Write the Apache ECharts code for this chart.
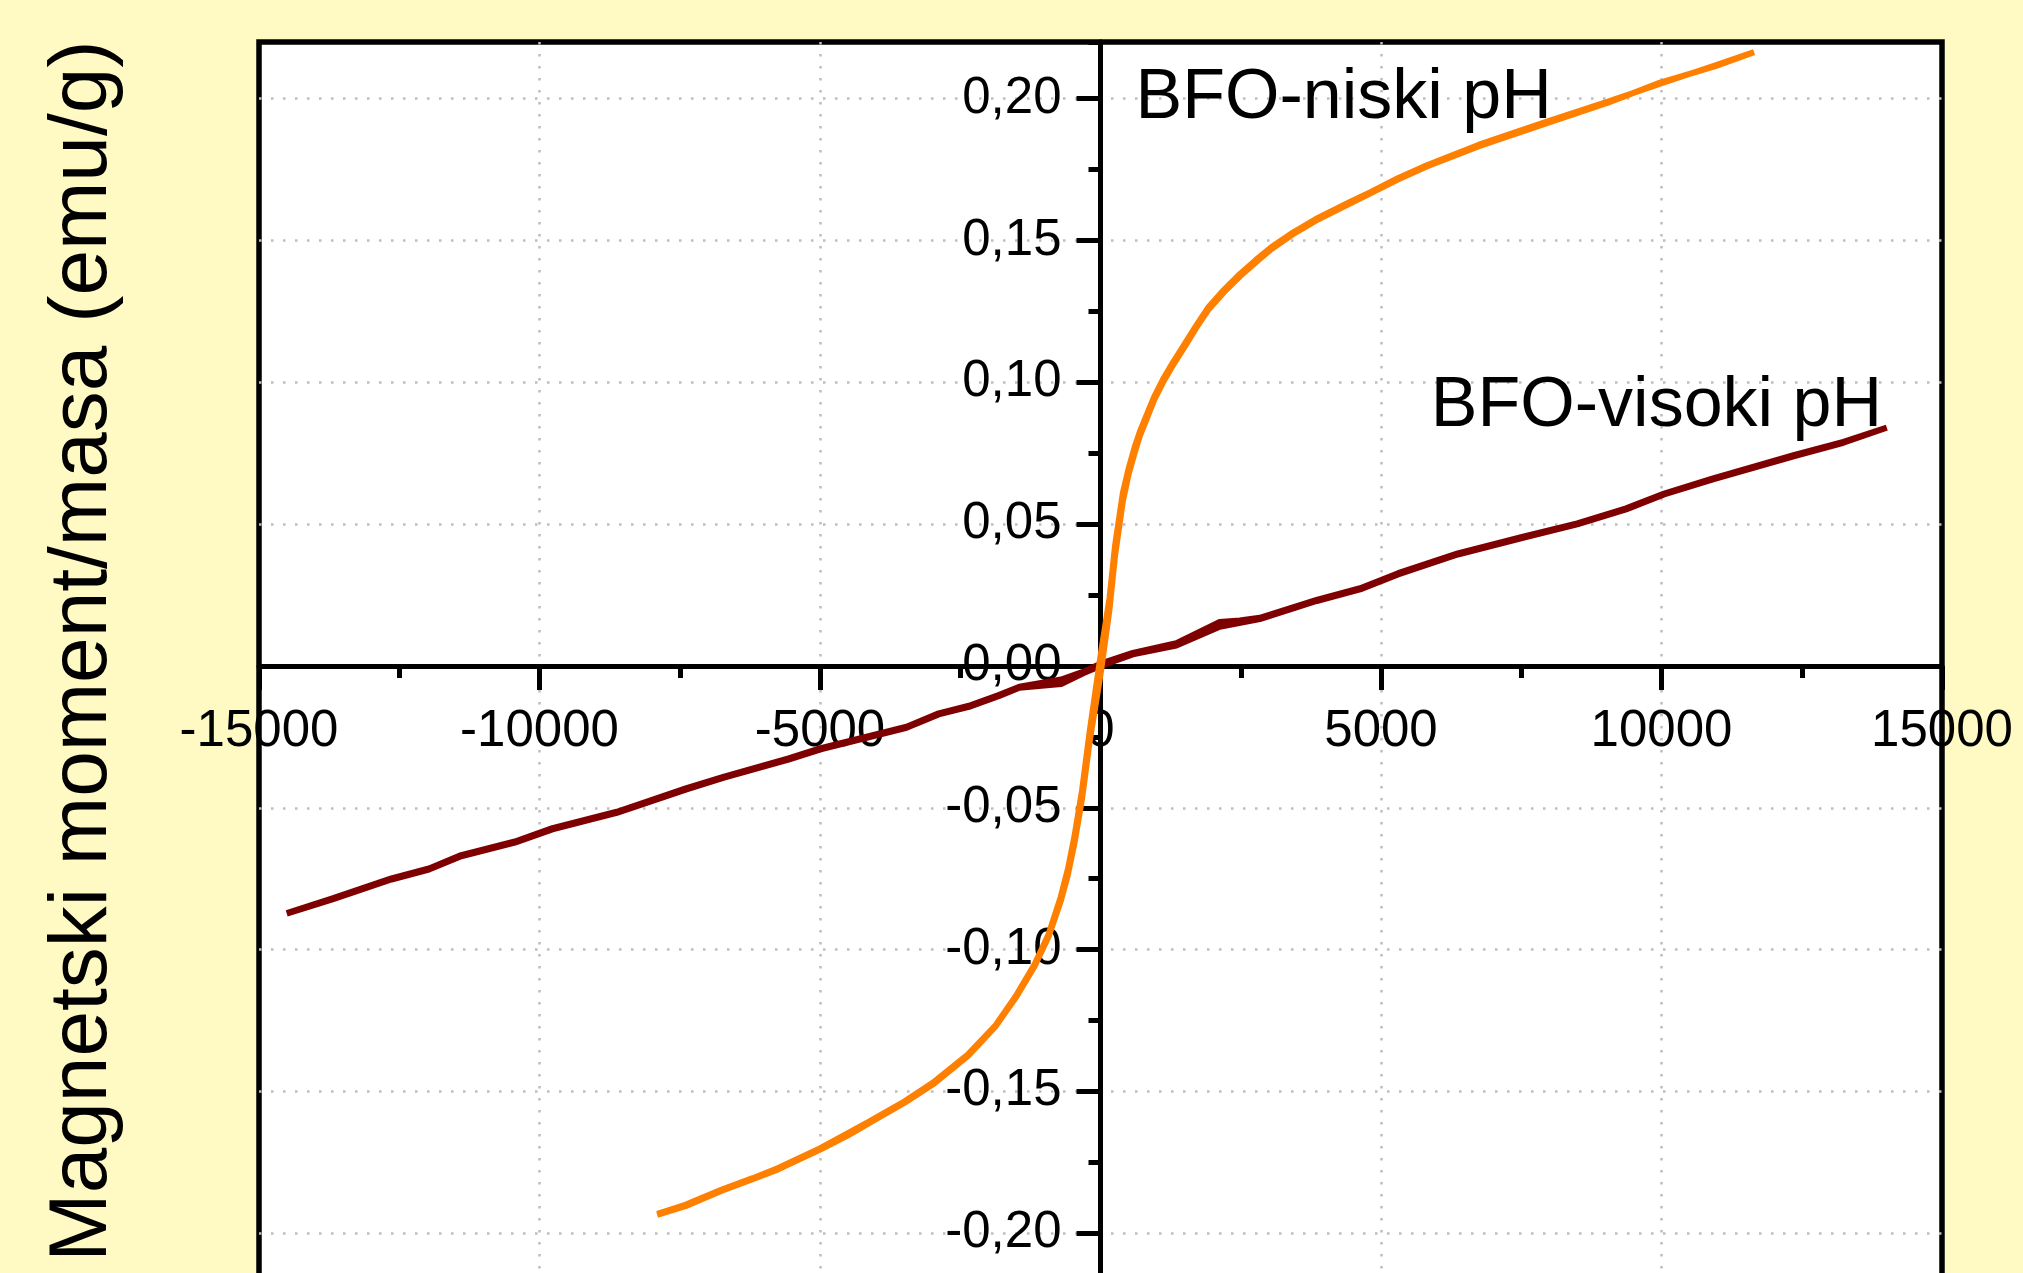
<!DOCTYPE html>
<html>
<head>
<meta charset="utf-8">
<script src="https://cdn.jsdelivr.net/npm/echarts@6/dist/echarts.min.js"></script>
<style>
html,body{margin:0;padding:0;background:#FFF9C3;}
#chart{width:2023px;height:1273px;}
</style>
</head>
<body>
<div id="chart"></div>
<script>
// ---------- Axis definitions ----------
const xTickValues = [-15000, -10000, -5000, 0, 5000, 10000, 15000];
const xTickLabels = ['-15000', '-10000', '-5000', '0', '5000', '10000', '15000'];
const yTickLabels = ['-0,20', '-0,15', '-0,10', '-0,05', '0,00', '0,05', '0,10', '0,15', '0,20'];
const yAxisTitle = 'Magnetski moment/masa (emu/g)';

// ---------- BFO-niski pH (orange) : ascending branch ----------
const niskiUpX = [-7902, -7400, -6750, -6200, -5746, -4995, -4500, -4118, -3491, -2991, -2366, -1866, -1491, -1175, -923, -710, -580, -464, -330, -196, 0, 161, 260, 398, 500, 607, 700, 816, 950, 1112, 1290, 1470, 1700, 1927, 2200, 2486, 2760, 3043, 3430, 3839, 4446, 4830, 5300, 5827, 6746, 7971, 9045, 9964, 10961, 11650];
const niskiUpY = [-0.1935, -0.1905, -0.1850, -0.1810, -0.1775, -0.1705, -0.1655, -0.1611, -0.1540, -0.1476, -0.1376, -0.1270, -0.1164, -0.1059, -0.0953, -0.0830, -0.0735, -0.0625, -0.0470, -0.0270, -0.0030, 0.0200, 0.0390, 0.0580, 0.0675, 0.0750, 0.0810, 0.0868, 0.0935, 0.0999, 0.1060, 0.1116, 0.1190, 0.1257, 0.1318, 0.1374, 0.1422, 0.1469, 0.1522, 0.1570, 0.1630, 0.1668, 0.1715, 0.1762, 0.1833, 0.1915, 0.1986, 0.2056, 0.2115, 0.2164];
// ---------- BFO-niski pH (orange) : descending branch ----------
const niskiDownX = [11650, 10961, 9964, 9045, 7971, 6746, 5827, 5300, 4830, 4446, 3839, 3430, 3043, 2760, 2486, 2200, 1927, 1700, 1470, 1290, 1112, 950, 816, 700, 607, 500, 398, 260, 161, 0, -196, -330, -464, -580, -710, -923, -1175, -1491, -1866, -2366, -2991, -3491, -4118, -4995, -5746, -6200, -6750, -7400, -7902];
const niskiDownY = [0.2160, 0.2118, 0.2052, 0.1990, 0.1920, 0.1838, 0.1766, 0.1720, 0.1672, 0.1636, 0.1576, 0.1528, 0.1476, 0.1430, 0.1382, 0.1326, 0.1266, 0.1198, 0.1126, 0.1070, 0.1010, 0.0946, 0.0882, 0.0825, 0.0770, 0.0695, 0.0610, 0.0425, 0.0240, 0.0035, -0.0235, -0.0440, -0.0600, -0.0715, -0.0815, -0.0945, -0.1052, -0.1158, -0.1266, -0.1370, -0.1470, -0.1535, -0.1606, -0.1700, -0.1770, -0.1806, -0.1846, -0.1900, -0.1932];

// ---------- BFO-visoki pH (dark red) : ascending branch ----------
const visokiUpX = [-14505, -13691, -12639, -11970, -11396, -10439, -9769, -8622, -7378, -6709, -5561, -4987, -3936, -3457, -2884, -2309, -1804, -1446, -702, -300, 0, 577, 1352, 2125, 2839, 3853, 4628, 5305, 6369, 7532, 8498, 9369, 10047, 10919, 12371, 13242, 14016];
const visokiUpY = [-0.0873, -0.0823, -0.0753, -0.0718, -0.0671, -0.0623, -0.0576, -0.0518, -0.0435, -0.0394, -0.0330, -0.0294, -0.0242, -0.0218, -0.0171, -0.0142, -0.0106, -0.0077, -0.0064, -0.0025, 0.0000, 0.0041, 0.0072, 0.0138, 0.0165, 0.0229, 0.0270, 0.0323, 0.0393, 0.0452, 0.0499, 0.0552, 0.0605, 0.0658, 0.0740, 0.0787, 0.0840];
// ---------- BFO-visoki pH (dark red) : descending branch ----------
const visokiDownX = [14016, 13242, 12371, 10919, 10047, 9369, 8498, 7532, 6369, 5305, 4628, 3853, 2839, 2482, 2125, 1352, 577, 0, -300, -702, -1446, -1804, -2309, -2884, -3457, -3936, -4987, -5561, -6709, -7378, -8622, -9769, -10439, -11396, -11970, -12639, -13691, -14505];
const visokiDownY = [0.0842, 0.0790, 0.0744, 0.0661, 0.0608, 0.0556, 0.0503, 0.0456, 0.0397, 0.0327, 0.0274, 0.0233, 0.0170, 0.0160, 0.0155, 0.0080, 0.0046, 0.0008, -0.0020, -0.0048, -0.0073, -0.0102, -0.0138, -0.0167, -0.0214, -0.0238, -0.0290, -0.0326, -0.0390, -0.0431, -0.0514, -0.0572, -0.0619, -0.0667, -0.0714, -0.0749, -0.0819, -0.0871];

// ---------- Annotations (data coordinates) ----------
const annotationTexts = ['BFO-niski pH', 'BFO-visoki pH'];
const annotationX = [625, 5889];
const annotationY = [0.200, 0.0913];

function pairs(xs, ys) { return xs.map((x, i) => [x, ys[i]]); }
const niskiLoop = pairs(niskiUpX, niskiUpY).concat(pairs(niskiDownX, niskiDownY));
const visokiLoop = pairs(visokiUpX, visokiUpY).concat(pairs(visokiDownX, visokiDownY));
const annotationData = annotationTexts.map((t, i) => ({ name: t, value: [annotationX[i], annotationY[i]] }));

const FONT = '"Liberation Sans", Arial, sans-serif';
const yLabelMap = {};
yTickLabels.forEach(l => { yLabelMap[parseFloat(l.replace(',', '.')).toFixed(2)] = l; });
const xLabelMap = {};
xTickValues.forEach((v, i) => { xLabelMap[v] = xTickLabels[i]; });

const GRID = { left: 259, top: 42, width: 1683, height: 1333 };
const GRID_LINE = { color: '#bdbdbd', width: 2.5, type: [2.5, 9.5] };

const chart = echarts.init(document.getElementById('chart'), null, { renderer: 'canvas' });
chart.setOption({
  backgroundColor: '#FFF9C3',
  animation: false,
  textStyle: { fontFamily: FONT, color: '#000' },
  grid: {
    left: GRID.left, top: GRID.top, width: GRID.width, height: GRID.height,
    show: true, backgroundColor: '#ffffff', borderColor: '#000000', borderWidth: 5.5,
    containLabel: false, outerBoundsMode: 'none'
  },
  xAxis: {
    type: 'value', min: xTickValues[0], max: xTickValues[xTickValues.length - 1], interval: 5000,
    position: 'bottom', offset: 0, z: 6,
    axisLine: { show: true, onZero: false, lineStyle: { color: '#000', width: 5 } },
    axisTick: { show: true, length: 24, lineStyle: { color: '#000', width: 5 } },
    minorTick: { show: true, splitNumber: 2, length: 12, lineStyle: { color: '#000', width: 5 } },
    axisLabel: {
      show: true, margin: 40, fontSize: 51, color: '#000000', fontFamily: FONT,
      showMinLabel: true, showMaxLabel: true, hideOverlap: false,
      formatter: v => (xLabelMap[v] !== undefined ? xLabelMap[v] : String(v))
    },
    splitLine: { show: true, showMinLine: false, showMaxLine: false, lineStyle: GRID_LINE },
    minorSplitLine: { show: false }
  },
  yAxis: [{
    type: 'value', min: -0.25, max: 0.22, interval: 0.05, position: 'left', offset: 0, z: 6,
    name: yAxisTitle, nameLocation: 'middle', nameGap: 976, nameMoveOverlap: false,
    nameTextStyle: { fontSize: 82, color: '#000000', fontFamily: FONT, padding: [0, 0, 0, 115] },
    axisLine: { show: true, onZero: false, lineStyle: { color: '#000', width: 5 } },
    axisTick: { show: true, length: 24, lineStyle: { color: '#000', width: 5 } },
    axisLabel: {
      show: true, margin: 39, fontSize: 51, color: '#000000', fontFamily: FONT,
      showMinLabel: false, showMaxLabel: false, hideOverlap: false,
      formatter: v => { const k = v.toFixed(2); return yLabelMap[k] !== undefined ? yLabelMap[k] : ''; }
    },
    splitLine: { show: true, showMinLine: false, showMaxLine: false, lineStyle: GRID_LINE }
  }, {
    type: 'value', min: -0.25, max: 0.22, interval: 0.025, position: 'left', offset: 0, z: 6,
    axisLine: { show: false, onZero: false },
    axisTick: { show: true, length: 12, lineStyle: { color: '#000', width: 5 } },
    axisLabel: { show: false },
    splitLine: { show: false }
  }],
  series: [{
    name: 'BFO-visoki pH', type: 'line', xAxisIndex: 0, yAxisIndex: 0,
    data: visokiLoop, showSymbol: false, symbol: 'none', smooth: false,
    lineStyle: { color: '#7F0000', width: 6 }, z: 7
  }, {
    name: 'BFO-niski pH', type: 'line', xAxisIndex: 0, yAxisIndex: 0,
    data: niskiLoop, showSymbol: false, symbol: 'none', smooth: false,
    lineStyle: { color: '#FF8000', width: 6 }, z: 8
  }, {
    name: 'annotations', type: 'scatter', xAxisIndex: 0, yAxisIndex: 0,
    data: annotationData, symbolSize: 0, itemStyle: { color: 'rgba(0,0,0,0)' },
    label: { show: true, position: 'right', distance: 0, formatter: p => p.name, fontSize: 70, color: '#000000', opacity: 1, textBorderWidth: 0, fontFamily: FONT },
    emphasis: { disabled: true },
    z: 9, silent: true
  }]
});

// Place the axes through the origin, using the library's own scales.
const x0px = chart.convertToPixel({ xAxisIndex: 0 }, 0);
const y0px = chart.convertToPixel({ yAxisIndex: 0 }, 0);
const yOffset = -(x0px - GRID.left);
const xOffset = -(GRID.top + GRID.height - y0px);
chart.setOption({
  xAxis: { offset: xOffset },
  yAxis: [{ offset: yOffset }, { offset: yOffset }]
});
</script>
</body>
</html>
